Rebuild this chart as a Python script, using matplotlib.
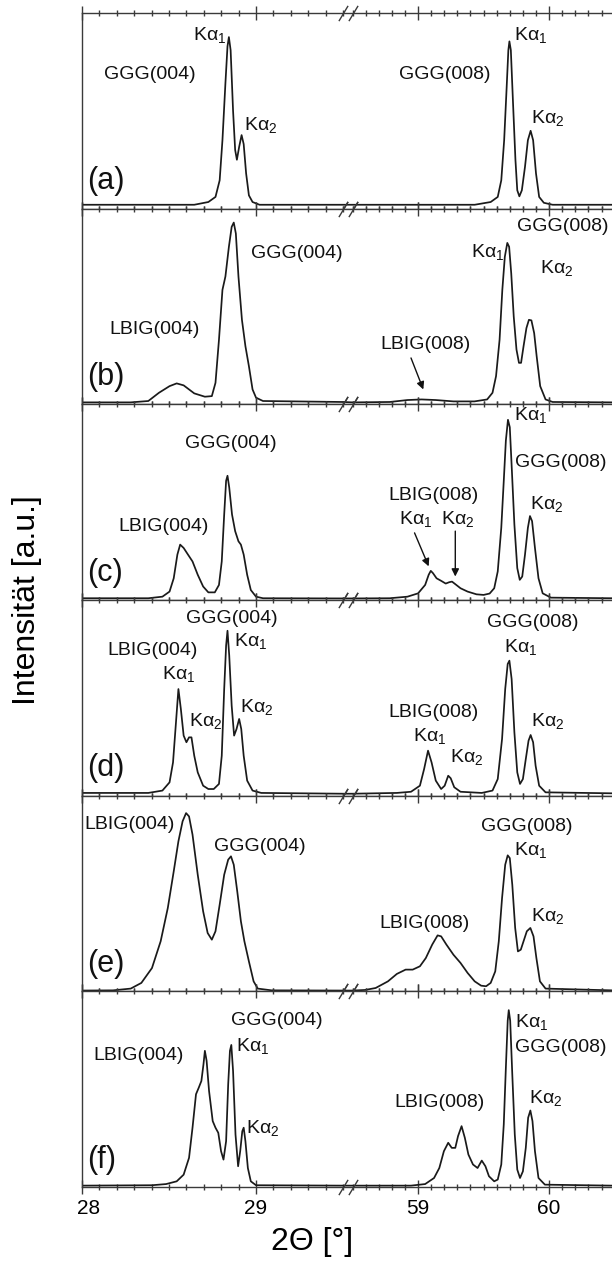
import numpy as np
import matplotlib
matplotlib.use("Agg")
import matplotlib.pyplot as plt
import matplotlib.transforms as mtransforms
from matplotlib.ticker import FixedLocator

plt.rcParams['font.family'] = ['Liberation Sans', 'DejaVu Sans']
plt.rcParams['mathtext.fontset'] = 'custom'
plt.rcParams['mathtext.rm'] = 'Liberation Sans'
plt.rcParams['mathtext.it'] = 'Liberation Sans:italic'

# 2theta [deg] and normalised intensity for the six samples (a)-(f)
tt_a = [28.0, 28.645, 28.726, 28.767, 28.791, 28.807, 28.824, 28.836, 28.844, 28.854, 28.868, 28.88, 28.89,
        28.903, 28.917, 28.929, 28.943, 28.959, 28.98, 29.02, 29.5,
        58.5, 59.432, 59.554, 59.608, 59.635, 59.657, 59.676, 59.689, 59.697, 59.708, 59.724, 59.743, 59.757,
        59.773, 59.792, 59.816, 59.838, 59.859, 59.878, 59.9, 59.924, 59.96, 60.027, 60.48]
int_a = [0.02, 0.02, 0.034, 0.06, 0.145, 0.35, 0.64, 0.83, 0.877, 0.81, 0.50, 0.30, 0.25,
         0.316, 0.376, 0.33, 0.18, 0.068, 0.034, 0.02, 0.02,
         0.02, 0.02, 0.034, 0.06, 0.145, 0.35, 0.62, 0.81, 0.855, 0.81, 0.55, 0.25, 0.094,
         0.063, 0.094, 0.214, 0.35, 0.398, 0.35, 0.18, 0.06, 0.03, 0.02, 0.02]

tt_b = [28.0, 28.28, 28.381, 28.442, 28.503, 28.544, 28.584, 28.645, 28.706, 28.746, 28.767, 28.787, 28.807,
        28.824, 28.844, 28.86, 28.872, 28.884, 28.899, 28.919, 28.939, 28.959, 28.98, 29.0, 29.04, 29.5,
        58.5, 58.784, 58.919, 59.027, 59.135, 59.27, 59.43, 59.527, 59.568, 59.595, 59.622, 59.643, 59.662,
        59.681, 59.695, 59.711, 59.73, 59.751, 59.77, 59.786, 59.805, 59.827, 59.846, 59.865, 59.886, 59.905,
        59.932, 59.973, 60.027, 60.48]
int_b = [0.01, 0.01, 0.017, 0.059, 0.093, 0.107, 0.097, 0.056, 0.039, 0.042, 0.11, 0.33, 0.585,
         0.653, 0.805, 0.907, 0.929, 0.873, 0.653, 0.432, 0.297, 0.195, 0.076, 0.034, 0.017, 0.012,
         0.01, 0.012, 0.022, 0.025, 0.022, 0.015, 0.015, 0.025, 0.059, 0.144, 0.33, 0.585, 0.754,
         0.825, 0.805, 0.669, 0.449, 0.28, 0.212, 0.212, 0.297, 0.39, 0.432, 0.429, 0.364, 0.246,
         0.093, 0.025, 0.012, 0.01]

tt_c = [28.0, 28.381, 28.462, 28.503, 28.527, 28.548, 28.564, 28.584, 28.609, 28.635, 28.665, 28.696, 28.726,
        28.763, 28.787, 28.803, 28.817, 28.828, 28.836, 28.846, 28.862, 28.88, 28.899, 28.913, 28.929, 28.949,
        28.97, 29.0, 29.04, 29.5,
        58.5, 58.784, 58.919, 59.0, 59.054, 59.081, 59.097, 59.114, 59.141, 59.176, 59.211, 59.238, 59.259,
        59.284, 59.324, 59.378, 59.446, 59.5, 59.546, 59.581, 59.608, 59.635, 59.654, 59.67, 59.686, 59.7,
        59.716, 59.735, 59.757, 59.776, 59.795, 59.816, 59.838, 59.854, 59.87, 59.892, 59.919, 59.951,
        60.014, 60.48]
int_c = [0.009, 0.009, 0.017, 0.043, 0.111, 0.232, 0.283, 0.266, 0.232, 0.197, 0.129, 0.069, 0.039,
         0.039, 0.077, 0.197, 0.437, 0.609, 0.635, 0.575, 0.437, 0.352, 0.3, 0.283, 0.232, 0.129,
         0.051, 0.017, 0.009, 0.008,
         0.008, 0.009, 0.017, 0.034, 0.077, 0.129, 0.149, 0.137, 0.111, 0.098, 0.084, 0.091, 0.094,
         0.081, 0.06, 0.043, 0.029, 0.026, 0.033, 0.06, 0.146, 0.369, 0.609, 0.815, 0.921, 0.883,
         0.66, 0.386, 0.163, 0.103, 0.12, 0.232, 0.369, 0.429, 0.403, 0.266, 0.111, 0.034,
         0.012, 0.009]

tt_d = [28.0, 28.381, 28.462, 28.503, 28.523, 28.54, 28.554, 28.568, 28.584, 28.6, 28.615, 28.629, 28.645,
        28.665, 28.696, 28.726, 28.757, 28.787, 28.803, 28.817, 28.828, 28.836, 28.846, 28.86, 28.874, 28.888,
        28.903, 28.915, 28.929, 28.949, 28.98, 29.03, 29.5,
        58.5, 58.838, 58.946, 59.014, 59.046, 59.076, 59.103, 59.135, 59.176, 59.203, 59.23, 59.249, 59.276,
        59.324, 59.486, 59.568, 59.608, 59.641, 59.665, 59.684, 59.697, 59.714, 59.735, 59.757, 59.778, 59.8,
        59.822, 59.843, 59.859, 59.878, 59.897, 59.924, 59.973, 60.48]
int_d = [0.014, 0.014, 0.026, 0.068, 0.17, 0.375, 0.545, 0.443, 0.307, 0.273, 0.298, 0.298, 0.204,
         0.119, 0.051, 0.034, 0.034, 0.06, 0.204, 0.545, 0.767, 0.843, 0.716, 0.46, 0.307, 0.341,
         0.392, 0.341, 0.204, 0.077, 0.026, 0.014, 0.01,
         0.01, 0.014, 0.02, 0.051, 0.136, 0.23, 0.17, 0.077, 0.034, 0.051, 0.102, 0.089, 0.043,
         0.02, 0.014, 0.026, 0.085, 0.29, 0.545, 0.673, 0.69, 0.596, 0.324, 0.119, 0.06, 0.085,
         0.187, 0.281, 0.31, 0.273, 0.153, 0.051, 0.017, 0.012]

tt_e = [28.0, 28.178, 28.28, 28.341, 28.402, 28.452, 28.493, 28.527, 28.554, 28.578, 28.598, 28.615, 28.635,
        28.665, 28.696, 28.722, 28.746, 28.767, 28.791, 28.817, 28.84, 28.856, 28.872, 28.892, 28.913, 28.933,
        28.959, 28.986, 29.01, 29.09, 29.5,
        58.5, 58.595, 58.676, 58.77, 58.838, 58.905, 58.959, 59.014, 59.059, 59.108, 59.149, 59.176, 59.216,
        59.27, 59.324, 59.378, 59.432, 59.481, 59.519, 59.554, 59.589, 59.616, 59.641, 59.665, 59.684, 59.7,
        59.719, 59.741, 59.762, 59.784, 59.805, 59.83, 59.857, 59.881, 59.903, 59.93, 59.973, 60.48]
int_e = [0.004, 0.005, 0.014, 0.043, 0.119, 0.256, 0.426, 0.613, 0.767, 0.869, 0.911, 0.894, 0.801,
         0.596, 0.409, 0.298, 0.264, 0.307, 0.443, 0.596, 0.673, 0.69, 0.647, 0.511, 0.358, 0.256,
         0.153, 0.051, 0.014, 0.005, 0.004,
         0.004, 0.007, 0.017, 0.051, 0.089, 0.111, 0.111, 0.128, 0.17, 0.239, 0.286, 0.281, 0.239,
         0.187, 0.145, 0.094, 0.051, 0.029, 0.026, 0.043, 0.102, 0.256, 0.477, 0.647, 0.695, 0.681,
         0.545, 0.324, 0.204, 0.213, 0.256, 0.307, 0.324, 0.281, 0.17, 0.051, 0.014, 0.005]

tt_f = [28.0, 28.402, 28.483, 28.544, 28.584, 28.615, 28.635, 28.655, 28.671, 28.686, 28.698, 28.706, 28.716,
        28.73, 28.751, 28.767, 28.783, 28.799, 28.813, 28.828, 28.84, 28.85, 28.858, 28.868, 28.882, 28.897,
        28.909, 28.921, 28.929, 28.939, 28.953, 28.97, 29.0, 29.5,
        58.5, 58.946, 59.054, 59.122, 59.162, 59.197, 59.23, 59.257, 59.284, 59.305, 59.332, 59.357, 59.384,
        59.419, 59.454, 59.486, 59.514, 59.541, 59.581, 59.608, 59.635, 59.654, 59.67, 59.684, 59.692, 59.703,
        59.719, 59.738, 59.757, 59.778, 59.8, 59.822, 59.84, 59.857, 59.873, 59.892, 59.919, 59.968, 60.48]
int_f = [0.007, 0.009, 0.015, 0.029, 0.063, 0.149, 0.303, 0.474, 0.508, 0.542, 0.627, 0.696, 0.645,
         0.491, 0.337, 0.303, 0.277, 0.183, 0.14, 0.234, 0.525, 0.696, 0.726, 0.593, 0.268, 0.106,
         0.183, 0.285, 0.303, 0.234, 0.097, 0.029, 0.009, 0.007,
         0.007, 0.007, 0.015, 0.046, 0.097, 0.183, 0.226, 0.2, 0.2, 0.26, 0.311, 0.251, 0.166,
         0.115, 0.097, 0.135, 0.106, 0.055, 0.029, 0.038, 0.115, 0.32, 0.61, 0.85, 0.904, 0.85,
         0.576, 0.268, 0.089, 0.046, 0.08, 0.2, 0.354, 0.391, 0.337, 0.183, 0.046, 0.012, 0.007]

K1 = r'K$\mathrm{\alpha}_1$'
K2 = r'K$\mathrm{\alpha}_2$'

# peak labels: (text, 2theta of left edge, height)
labels_a = [(K1, 28.635, 0.889), ('GGG(004)', 28.128, 0.684), (K2, 28.929, 0.427),
            ('GGG(008)', 58.851, 0.684), (K1, 59.73, 0.889), (K2, 59.865, 0.462)]
labels_b = [('GGG(004)', 28.97, 0.771), ('LBIG(004)', 28.158, 0.381), ('LBIG(008)', 58.716, 0.305),
            (K1, 59.405, 0.78), ('GGG(008)', 59.757, 0.907), (K2, 59.93, 0.695)]
labels_c = [('GGG(004)', 28.594, 0.798), ('LBIG(004)', 28.209, 0.377), ('LBIG(008)', 58.77, 0.532),
            (K1, 58.851, 0.412), (K2, 59.176, 0.412), (K1, 59.73, 0.943),
            ('GGG(008)', 59.743, 0.703), (K2, 59.851, 0.489)]
labels_d = [('LBIG(004)', 28.148, 0.741), (K1, 28.462, 0.622), (K2, 28.615, 0.383),
            ('GGG(004)', 28.6, 0.903), (K1, 28.872, 0.792), (K2, 28.909, 0.451),
            ('GGG(008)', 59.527, 0.886), (K1, 59.654, 0.758), ('LBIG(008)', 58.77, 0.426),
            (K1, 58.96, 0.307), (K2, 59.243, 0.196), (K2, 59.859, 0.383)]
labels_e = [('LBIG(004)', 28.016, 0.852), ('GGG(004)', 28.757, 0.741), ('GGG(008)', 59.481, 0.843),
            (K1, 59.735, 0.724), ('LBIG(008)', 58.703, 0.349), (K2, 59.865, 0.383)]
labels_f = [('GGG(004)', 28.858, 0.85), (K1, 28.884, 0.721), ('LBIG(004)', 28.067, 0.67),
            (K2, 28.943, 0.303), (K1, 59.743, 0.841), ('GGG(008)', 59.743, 0.713),
            (K2, 59.846, 0.456), ('LBIG(008)', 58.816, 0.431)]

# arrows: (tail x, tail y, head x, head y)
arrows_b = [(58.946, 0.237, 59.04, 0.076)]
arrows_c = [(58.973, 0.343, 59.081, 0.172), (59.284, 0.352, 59.284, 0.12)]

panels = [('(a)', tt_a, int_a, labels_a, []),
          ('(b)', tt_b, int_b, labels_b, arrows_b),
          ('(c)', tt_c, int_c, labels_c, arrows_c),
          ('(d)', tt_d, int_d, labels_d, []),
          ('(e)', tt_e, int_e, labels_e, []),
          ('(f)', tt_f, int_f, labels_f, [])]

# broken 2theta axis: 28-29.5 and 58.5-60.5 side by side with a small gap
BRK_X = np.array([28.0, 29.5, 58.5, 60.6])
BRK_P = np.array([0.0, 261.0, 270.5, 270.5 + 2.1 * 131.0])


def fwd(x):
    x = np.asarray(x, dtype=float)
    p = np.interp(x, BRK_X, BRK_P)
    p = np.where(x < BRK_X[0], (x - BRK_X[0]) * 174.0, p)
    return np.where(x > BRK_X[-1], BRK_P[-1] + (x - BRK_X[-1]) * 131.0, p)


def inv(p):
    p = np.asarray(p, dtype=float)
    x = np.interp(p, BRK_P, BRK_X)
    x = np.where(p < BRK_P[0], BRK_X[0] + p / 174.0, x)
    return np.where(p > BRK_P[-1], BRK_X[-1] + (p - BRK_P[-1]) / 131.0, x)


major = [28, 29, 59, 60]
minor = np.round(np.r_[np.arange(28.0, 29.55, 0.1), np.arange(58.5, 60.55, 0.1)], 2)

fig = plt.figure(figsize=(6.12, 12.64), dpi=100)
ax_left, ax_w = 82 / 612, 530 / 612
ax_bottom, ax_top = 1 - 1187 / 1264, 1 - 13 / 1264
ax_h = (ax_top - ax_bottom) / 6
line_col = '#1a1a1a'
spine_col = '#3a3a3a'

for i, (tag, tt, yy, labels, arrows) in enumerate(panels):
    ax = fig.add_axes([ax_left, ax_top - (i + 1) * ax_h, ax_w, ax_h])
    ax.set_xscale('function', functions=(fwd, inv))
    ax.plot(tt, yy, color=line_col, lw=1.25)
    ax.set_xlim(28.0, 60.48)
    ax.set_ylim(0, 1)
    ax.set_yticks([])
    ax.xaxis.set_major_locator(FixedLocator(major))
    ax.xaxis.set_minor_locator(FixedLocator(minor))
    ax.tick_params(axis='x', which='both', direction='inout', top=True, color=spine_col, width=1.0,
                   labelsize=15, labelbottom=(i == 5), pad=4)
    ax.tick_params(axis='x', which='major', length=10)
    ax.tick_params(axis='x', which='minor', length=5)
    ax.spines['right'].set_visible(False)
    for s in ('left', 'top', 'bottom'):
        ax.spines[s].set_color(spine_col)
        ax.spines[s].set_linewidth(1.0)

    # break marks on top and bottom spines
    for yb in (0, 1):
        ax.plot([29.5, 58.5], [yb, yb], transform=ax.get_xaxis_transform(), linestyle='none',
                marker=[(-0.6, -1), (0.6, 1)], markersize=11, mew=1.0, color=spine_col, clip_on=False)

    for text, x, y in labels:
        ax.text(x, y, text, fontsize=14, ha='left', va='center', color='#111111')
    for x0, y0, x1, y1 in arrows:
        ax.annotate('', xy=(x1, y1), xytext=(x0, y0),
                    arrowprops=dict(arrowstyle='-|>', color='#111111', lw=1.0, mutation_scale=11,
                                    shrinkA=0, shrinkB=0))
    ax.text(28.03, 0.14, tag, fontsize=22, ha='left', va='center', color='#111111')

    if i == 5:
        fig.canvas.draw()
        # shift the first tick label clear of the left spine
        first = ax.get_xticklabels()[0]
        first.set_transform(first.get_transform() +
                            mtransforms.ScaledTranslation(7 / 100, 0, fig.dpi_scale_trans))

fig.text(312 / 612, 1 - 1242 / 1264, '2\u0398 [\u00b0]', ha='center', va='center', fontsize=23)
fig.text(27 / 612, 1 - 600 / 1264, 'Intensit\u00e4t [a.u.]', rotation=90, ha='center', va='center',
         fontsize=23)

fig.savefig('out.png', dpi=100)
